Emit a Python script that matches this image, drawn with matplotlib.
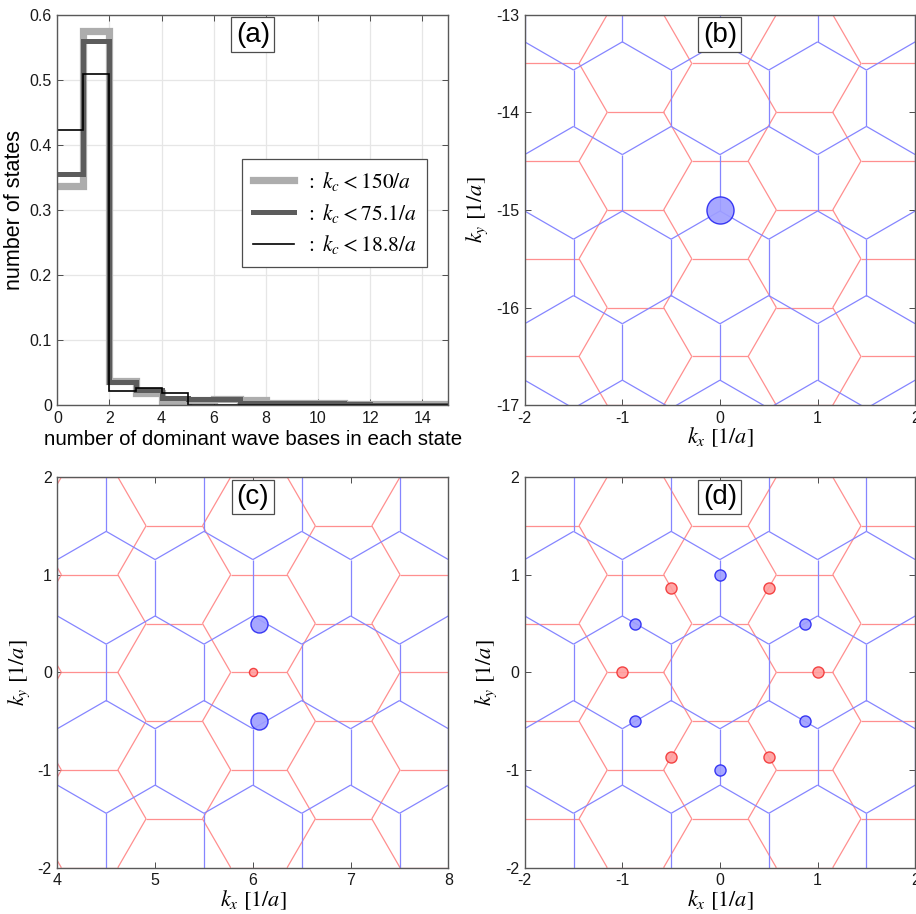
import numpy as np
import matplotlib
matplotlib.use("Agg")
import matplotlib.pyplot as plt
from matplotlib.collections import LineCollection

plt.rcParams['font.family'] = ['Liberation Sans', 'DejaVu Sans']
plt.rcParams['mathtext.fontset'] = 'stix'
plt.rcParams['axes.unicode_minus'] = False

# ---------------- data ----------------
# panel (a): fraction of states vs number of dominant wave bases (bin edges 0..15)
bin_edges = list(range(0, 16))
frac_kc150 = [0.337, 0.575, 0.038, 0.019, 0.005, 0.008, 0.009, 0.008, 0.004,
              0.004, 0.004, 0.002, 0.002, 0.002, 0.002]
frac_kc75 = [0.355, 0.559, 0.035, 0.024, 0.011, 0.009, 0.009, 0.004, 0.004,
             0.003, 0.003, 0.002, 0.001, 0.001, 0.001]
frac_kc19 = [0.423, 0.509, 0.022, 0.027, 0.019, 0.0, 0.0, 0.0, 0.0,
             0.0, 0.0, 0.0, 0.0, 0.0, 0.0]
legend_labels = [r'$:\ k_c < 150/a$', r'$:\ k_c < 75.1/a$', r'$:\ k_c < 18.8/a$']

# reciprocal lattices (two layers rotated by 30 deg)
blue_b1 = [1.0, 0.0]
blue_b2 = [0.5, 0.8660]
red_b1 = [0.0, 1.0]
red_b2 = [0.8660, 0.5]

# dominant wave bases (positions and relative amplitude)
b_blue_x, b_blue_y, b_blue_amp = [0.0], [-15.0], [1.0]
c_blue_x, c_blue_y, c_blue_amp = [6.062, 6.062], [0.5, -0.5], [0.63, 0.63]
c_red_x, c_red_y, c_red_amp = [6.0], [0.0], [0.30]
d_blue_x = [0.0, 0.0, 0.866, -0.866, 0.866, -0.866]
d_blue_y = [1.0, -1.0, 0.5, 0.5, -0.5, -0.5]
d_blue_amp = [0.41] * 6
d_red_x = [1.0, -1.0, 0.5, -0.5, 0.5, -0.5]
d_red_y = [0.0, 0.0, 0.866, 0.866, -0.866, -0.866]
d_red_amp = [0.41] * 6

panel_b_lim = ([-2, 2], [-17, -13])
panel_c_lim = ([4, 8], [-2, 2])
panel_d_lim = ([-2, 2], [-2, 2])

# ---------------- helpers ----------------
BLUE_LINE = (0.52, 0.52, 1.0)
RED_LINE = (1.0, 0.56, 0.56)
SPINE = '0.35'


def hex_segments(b1, b2, xlim, ylim):
    b1 = np.array(b1); b2 = np.array(b2)
    a = np.linalg.norm(b1)
    R = a / np.sqrt(3)
    ang0 = np.arctan2(b1[1], b1[0]) + np.pi / 6
    angs = ang0 + np.arange(6) * np.pi / 3
    offs = np.c_[R * np.cos(angs), R * np.sin(angs)]
    segs = {}
    N = 40
    cx = 0.5 * (xlim[0] + xlim[1]); cy = 0.5 * (ylim[0] + ylim[1])
    M = np.array([b1, b2]).T
    n0 = np.round(np.linalg.solve(M, [cx, cy])).astype(int)
    for i in range(n0[0] - N, n0[0] + N + 1):
        for j in range(n0[1] - N, n0[1] + N + 1):
            c = i * b1 + j * b2
            if (c[0] < xlim[0] - 1.5 or c[0] > xlim[1] + 1.5 or
                    c[1] < ylim[0] - 1.5 or c[1] > ylim[1] + 1.5):
                continue
            v = c + offs
            for k in range(6):
                p, q = v[k], v[(k + 1) % 6]
                key = (round((p[0] + q[0]) * 500), round((p[1] + q[1]) * 500))
                segs[key] = [tuple(p), tuple(q)]
    return list(segs.values())


def style_axes(ax):
    for s in ax.spines.values():
        s.set_color(SPINE)
        s.set_linewidth(1.0)
    ax.tick_params(direction='in', top=True, right=True, length=4, width=0.7,
                   color='0.3', labelsize=11.5, labelcolor='0.1', pad=4)


def panel_label(ax, s):
    ax.text(0.5, 0.982, s, transform=ax.transAxes, ha='center', va='top',
            fontsize=20, zorder=10,
            bbox=dict(boxstyle='square,pad=0.16', fc='white', ec='0.3', lw=0.9))


def lattice_panel(ax, lims, dots):
    xlim, ylim = lims
    ax.add_collection(LineCollection(hex_segments(red_b1, red_b2, xlim, ylim),
                                     colors=[RED_LINE], linewidths=0.9, zorder=2))
    ax.add_collection(LineCollection(hex_segments(blue_b1, blue_b2, xlim, ylim),
                                     colors=[BLUE_LINE], linewidths=0.9, zorder=2))
    for (xs, ys, amps, kind) in dots:
        if kind == 'blue':
            fc, ec = (0.62, 0.62, 1.0), (0.15, 0.15, 0.95)
        else:
            fc, ec = (1.0, 0.62, 0.62), (0.95, 0.2, 0.2)
        for x, y, a in zip(xs, ys, amps):
            ax.plot([x], [y], 'o', ms=19.5 * a, mfc=fc, mec=ec, mew=1.0,
                    alpha=0.9, zorder=4)
    ax.set_xlim(xlim); ax.set_ylim(ylim)
    ax.set_xticks(np.arange(xlim[0], xlim[1] + 1, 1))
    ax.set_yticks(np.arange(ylim[0], ylim[1] + 1, 1))
    ax.set_xlabel(r'$k_x\ [1/a]$', fontsize=16, labelpad=0)
    ax.set_ylabel(r'$k_y\ [1/a]$', fontsize=16, labelpad=4)
    style_axes(ax)


# ---------------- figure ----------------
fig = plt.figure(figsize=(9.16, 9.14), dpi=100)
axa = fig.add_axes([0.0626, 0.5566, 0.4269, 0.4274])
axb = fig.add_axes([0.5728, 0.5566, 0.4264, 0.4274])
axc = fig.add_axes([0.0626, 0.0507, 0.4269, 0.4274])
axd = fig.add_axes([0.5728, 0.0507, 0.4264, 0.4274])

# (a)
axa.grid(True, color='0.9', lw=0.9)
axa.set_axisbelow(True)
axa.stairs(frac_kc150, bin_edges, color=(0.68, 0.68, 0.68), lw=5.2,
           label=legend_labels[0], baseline=None)
axa.stairs(frac_kc75, bin_edges, color=(0.36, 0.36, 0.36), lw=3.6,
           label=legend_labels[1], baseline=None)
axa.stairs(frac_kc19, bin_edges, color='black', lw=1.2,
           label=legend_labels[2], baseline=None)
axa.set_xlim(0, 15); axa.set_ylim(0, 0.6)
axa.set_xticks(np.arange(0, 15, 2))
axa.set_yticks(np.arange(0, 0.61, 0.1))
axa.set_yticklabels(['0', '0.1', '0.2', '0.3', '0.4', '0.5', '0.6'])
axa.set_xlabel('number of dominant wave bases in each state', fontsize=14.8, labelpad=3)
axa.set_ylabel('number of states', fontsize=15.5, labelpad=3)
style_axes(axa)
leg = axa.legend(loc='upper right', bbox_to_anchor=(0.945, 0.63), borderaxespad=0,
                 fontsize=15.5, handlelength=1.9, fancybox=False, framealpha=1,
                 edgecolor='0.3', labelspacing=0.4, handletextpad=0.5,
                 borderpad=0.5)
leg.get_frame().set_linewidth(0.9)
panel_label(axa, '(a)')

lattice_panel(axb, panel_b_lim, [(b_blue_x, b_blue_y, b_blue_amp, 'blue')])
panel_label(axb, '(b)')
lattice_panel(axc, panel_c_lim, [(c_blue_x, c_blue_y, c_blue_amp, 'blue'),
                                 (c_red_x, c_red_y, c_red_amp, 'red')])
panel_label(axc, '(c)')
lattice_panel(axd, panel_d_lim, [(d_blue_x, d_blue_y, d_blue_amp, 'blue'),
                                 (d_red_x, d_red_y, d_red_amp, 'red')])
panel_label(axd, '(d)')

fig.savefig('out.png', dpi=100)
